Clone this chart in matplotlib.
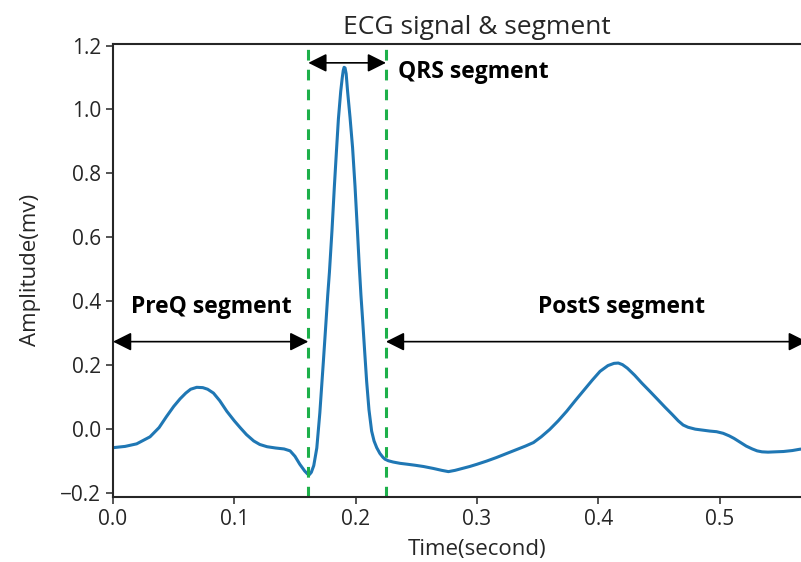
import matplotlib
matplotlib.use("Agg")
import matplotlib.pyplot as plt

plt.rcParams['font.family'] = ['Open Sans', 'DejaVu Sans']

# ECG samples (time in seconds, amplitude in mV)
t = [0.000, 0.010, 0.0195, 0.0305, 0.038, 0.044, 0.050, 0.0553, 0.060, 0.064,
     0.069, 0.074, 0.078, 0.0828, 0.088, 0.0938, 0.100, 0.105, 0.110, 0.116,
     0.121, 0.127, 0.134, 0.141, 0.146, 0.150, 0.154, 0.158, 0.1605, 0.162,
     0.1635, 0.1655, 0.168, 0.1705, 0.1734, 0.1755, 0.177, 0.1784, 0.1805, 0.1825,
     0.1842, 0.1858, 0.1877, 0.1890, 0.1898, 0.1905, 0.1913, 0.1922, 0.1934, 0.1954,
     0.1975, 0.1995, 0.2015, 0.2030, 0.2044, 0.2058, 0.2075, 0.2091, 0.2110, 0.2132,
     0.2152, 0.2174, 0.2200, 0.2225, 0.2242, 0.2270, 0.2310, 0.2366, 0.2430, 0.2490,
     0.2560, 0.2640, 0.2710, 0.2765, 0.2820, 0.2880, 0.2940, 0.3000, 0.3080, 0.3160,
     0.3240, 0.3320, 0.3400, 0.3466, 0.3530, 0.3600, 0.3670, 0.3740, 0.3810, 0.3880,
     0.3950, 0.4015, 0.4080, 0.4130, 0.4166, 0.4200, 0.4240, 0.4300, 0.4360, 0.4427,
     0.4490, 0.4550, 0.4610, 0.4660, 0.4700, 0.4740, 0.4800, 0.4860, 0.4920, 0.4976,
     0.5030, 0.5080, 0.5120, 0.5170, 0.5220, 0.5270, 0.5310, 0.5350, 0.5400, 0.5460,
     0.5527, 0.5600, 0.5660, 0.5750]
amp = [-0.059, -0.055, -0.047, -0.025, 0.004, 0.038, 0.070, 0.094, 0.112, 0.124,
       0.130, 0.129, 0.124, 0.112, 0.088, 0.055, 0.025, 0.003, -0.018, -0.038,
       -0.049, -0.056, -0.060, -0.063, -0.069, -0.086, -0.111, -0.132, -0.142, -0.143,
       -0.136, -0.115, -0.060, 0.050, 0.210, 0.330, 0.418, 0.490, 0.620, 0.760,
       0.870, 0.970, 1.056, 1.100, 1.122, 1.132, 1.130, 1.112, 1.056, 0.975,
       0.880, 0.760, 0.620, 0.510, 0.418, 0.340, 0.240, 0.148, 0.060, -0.007,
       -0.038, -0.059, -0.077, -0.089, -0.095, -0.100, -0.104, -0.108, -0.111, -0.114,
       -0.118, -0.124, -0.130, -0.134, -0.130, -0.124, -0.118, -0.111, -0.101, -0.090,
       -0.078, -0.066, -0.054, -0.043, -0.025, -0.002, 0.025, 0.055, 0.088, 0.120,
       0.152, 0.180, 0.198, 0.205, 0.206, 0.201, 0.190, 0.168, 0.143, 0.117,
       0.092, 0.068, 0.045, 0.025, 0.012, 0.005, -0.001, -0.004, -0.007, -0.009,
       -0.014, -0.022, -0.030, -0.042, -0.054, -0.063, -0.069, -0.072, -0.073, -0.072,
       -0.071, -0.068, -0.064, -0.060]

q_onset = 0.161
s_offset = 0.225
t_end = 0.572
qrs_arrow_y = 1.146
seg_arrow_y = 0.273

fig = plt.figure(figsize=(8.01, 5.62), dpi=100)
ax = fig.add_axes([0.1411, 0.1162, 1.0497 - 0.1411, 0.8055])

ax.plot(t, amp, color='#1f77b4', lw=2.2, solid_joinstyle='round')
for xv in (q_onset, s_offset):
    ax.axvline(xv, color='#1db04a', lw=2.2, ls=(0, (3.5, 3)))

arrowprops = dict(arrowstyle='<|-|>', color='black', lw=1.2, mutation_scale=28,
                  shrinkA=0, shrinkB=0)
ax.annotate('', xy=(0.0, seg_arrow_y), xytext=(q_onset, seg_arrow_y), arrowprops=arrowprops)
ax.annotate('', xy=(s_offset, seg_arrow_y), xytext=(t_end, seg_arrow_y), arrowprops=arrowprops)
ax.annotate('', xy=(q_onset, qrs_arrow_y), xytext=(s_offset, qrs_arrow_y), arrowprops=arrowprops)

ax.text(0.081, 0.382, 'PreQ segment', ha='center', va='center', fontsize=16.5, fontweight='bold')
ax.text(0.419, 0.382, 'PostS segment', ha='center', va='center', fontsize=16.5, fontweight='bold')
ax.text(0.235, 1.118, 'QRS segment', ha='left', va='center', fontsize=16.5, fontweight='bold')

ax.set_xlim(0, 0.6)
ax.set_ylim(-0.2125, 1.205)
ax.set_xticks([0.0, 0.1, 0.2, 0.3, 0.4, 0.5])
ax.set_yticks([-0.2, 0.0, 0.2, 0.4, 0.6, 0.8, 1.0, 1.2])
ax.tick_params(labelsize=15, length=5, width=1.1, colors='#262626', labelcolor='#262626')
for s in ax.spines.values():
    s.set_linewidth(1.5)
    s.set_color('#262626')

ax.set_title('ECG signal & segment', fontsize=19, color='#262626', pad=7)
ax.set_xlabel('Time(second)', fontsize=16, color='#262626', labelpad=7)
ax.set_ylabel('Amplitude(mv)', fontsize=16, color='#262626', labelpad=14)

fig.savefig('out.png', dpi=100)
